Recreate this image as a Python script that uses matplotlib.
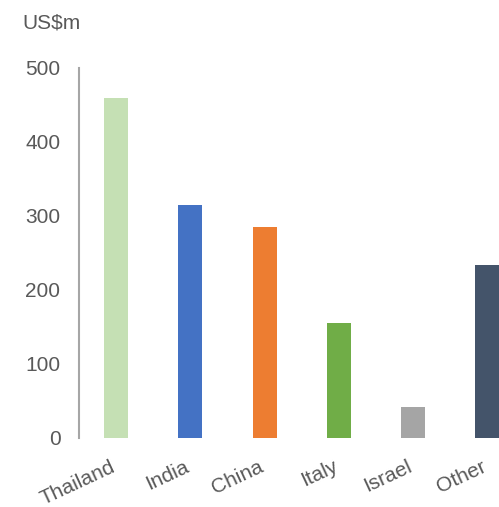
import matplotlib
matplotlib.use("Agg")
import matplotlib.pyplot as plt
import matplotlib.transforms as mtransforms

# Exports by destination, US$ millions
countries = ["Thailand", "India", "China", "Italy", "Israel", "Other"]
values = [459, 314, 284, 155, 41, 233]
colors = ["#C5E0B4", "#4472C4", "#ED7D31", "#70AD47", "#A5A5A5", "#44546A"]
yticks = [0, 100, 200, 300, 400, 500]

plt.rcParams["font.family"] = ["Liberation Sans", "DejaVu Sans"]
text_color = "#595959"

fig = plt.figure(figsize=(4.99, 5.07), dpi=100)
ax = fig.add_axes([78.5 / 499, 69.5 / 507, 1 - 78.5 / 499, 370 / 507])

x = range(len(countries))
ax.bar(x, values, width=0.323, color=colors)

ax.set_xlim(-0.505, 5.155)
ax.set_ylim(0, 500)
ax.set_yticks(yticks)
ax.set_yticklabels([str(v) for v in yticks], fontsize=15, color=text_color)
ax.set_xticks(list(x))
ax.set_xticklabels(countries, fontsize=15, color=text_color, rotation=25,
                   ha="right", va="top", rotation_mode="anchor")
ax.tick_params(axis="y", length=0, pad=13)
ax.tick_params(axis="x", length=0, pad=14)

# nudge category labels a few pixels left
shift = mtransforms.ScaledTranslation(-6 / 100, 0, fig.dpi_scale_trans)
for lbl in ax.get_xticklabels():
    lbl.set_transform(lbl.get_transform() + shift)

for side in ["top", "right", "bottom"]:
    ax.spines[side].set_visible(False)
ax.spines["left"].set_color("#A6A6A6")
ax.spines["left"].set_linewidth(1.5)

fig.text(22 / 499, 1 - 28 / 507, "US$m", fontsize=15, color=text_color,
         ha="left", va="baseline")

fig.savefig("out.png", dpi=100)
